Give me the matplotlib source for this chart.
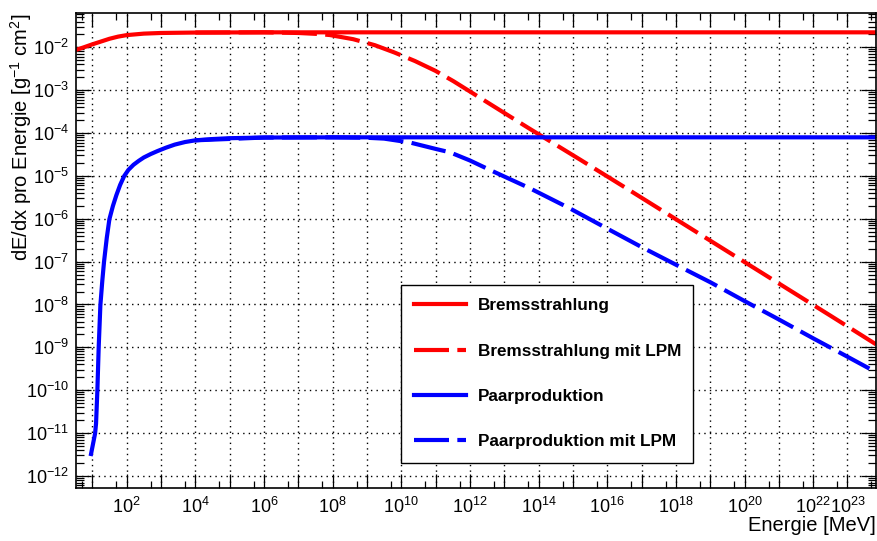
import matplotlib.pyplot as plt
import numpy as np
from matplotlib.ticker import FixedLocator, FixedFormatter, NullFormatter

plt.rcParams['font.family'] = ['Liberation Sans', 'DejaVu Sans']
plt.rcParams['mathtext.fontset'] = 'custom'
plt.rcParams['mathtext.rm'] = 'Liberation Sans'
plt.rcParams['mathtext.it'] = 'Liberation Sans:italic'
plt.rcParams['mathtext.bf'] = 'Liberation Sans:bold'

# log10(E / MeV) und log10(dE/dx / g^-1 cm^2)
brems_logE = [0.525, 0.75, 1.0, 1.25, 1.5, 1.75, 2.0, 2.5, 3.0, 4.0, 6.0, 10.0, 16.0, 23.83]
brems_logdedx = [-2.06, -2.00, -1.93, -1.865, -1.80, -1.75, -1.715, -1.68, -1.665, -1.655,
                 -1.65, -1.65, -1.65, -1.65]

brems_lpm_logE = [4.0, 6.0, 7.0, 7.5, 7.92, 8.6, 9.23, 9.8, 10.4, 11.0, 11.52, 12.58,
                  13.70, 15.21, 16.5, 18.02, 19.38, 21.0, 22.5, 23.83]
brems_lpm_logdedx = [-1.655, -1.65, -1.665, -1.685, -1.713, -1.81, -1.95, -2.12, -2.32, -2.55,
                     -2.79, -3.32, -3.88, -4.62, -5.26, -6.02, -6.70, -7.51, -8.26, -8.93]

paar_logE = [0.962, 1.08, 1.108, 1.147, 1.185, 1.234, 1.29, 1.341, 1.42, 1.497, 1.6, 1.7,
             1.81, 1.93, 2.05, 2.2, 2.35, 2.5, 2.7, 2.9, 3.15, 3.4, 3.7, 4.0, 4.5, 5.0,
             6.0, 8.0, 16.0, 23.83]
paar_logdedx = [-11.49, -11.01, -10.78, -10.0, -9.0, -8.02, -7.45, -7.0, -6.45, -6.01,
                -5.70, -5.45, -5.21, -5.0, -4.86, -4.74, -4.65, -4.57, -4.49, -4.42,
                -4.34, -4.27, -4.21, -4.17, -4.14, -4.12, -4.105, -4.10, -4.10, -4.10]

paar_lpm_logE = [4.0, 6.0, 8.0, 9.0, 9.5, 10.25, 11.0, 11.42, 12.0, 12.58, 13.75, 14.915,
                 16.0, 17.0, 18.02, 19.0, 20.0, 21.0, 22.0, 23.0, 23.83]
paar_lpm_logdedx = [-4.17, -4.105, -4.10, -4.11, -4.13, -4.22, -4.37, -4.45, -4.64, -4.86,
                    -5.29, -5.76, -6.23, -6.66, -7.08, -7.48, -7.92, -8.35, -8.79, -9.22, -9.58]

xlabel_exp = [2, 4, 6, 8, 10, 12, 14, 16, 18, 20, 22, 23]

fig = plt.figure(figsize=(8.78, 5.41), dpi=100)
ax = fig.add_axes([0.0866, 0.0974, 0.9111, 0.878])

lang = (0, (8.4, 2.0))
ax.plot(10 ** np.array(brems_logE), 10 ** np.array(brems_logdedx), color='red', lw=3,
        label='Bremsstrahlung')
ax.plot(10 ** np.array(brems_lpm_logE), 10 ** np.array(brems_lpm_logdedx), color='red', lw=3,
        linestyle=lang, label='Bremsstrahlung mit LPM')
ax.plot(10 ** np.array(paar_logE), 10 ** np.array(paar_logdedx), color='blue', lw=3,
        label='Paarproduktion')
ax.plot(10 ** np.array(paar_lpm_logE), 10 ** np.array(paar_lpm_logdedx), color='blue', lw=3,
        linestyle=lang, label='Paarproduktion mit LPM')

ax.set_xscale('log')
ax.set_yscale('log')
ax.set_xlim(10 ** 0.525, 10 ** 23.83)
ax.set_ylim(10 ** -12.29, 10 ** -1.206)

# x: jede Dekade ein Gitterstrich, Beschriftung nur ausgewaehlt
xdec = np.arange(1, 24)
ax.xaxis.set_major_locator(FixedLocator(10.0 ** xdec))
ax.xaxis.set_major_formatter(FixedFormatter(
    [r'$\mathdefault{10^{%d}}$' % e if e in xlabel_exp else '' for e in xdec]))
ax.xaxis.set_minor_locator(FixedLocator(5 * 10.0 ** np.arange(0, 24)))
ax.xaxis.set_minor_formatter(NullFormatter())

ydec = np.arange(-12, -1)
ax.yaxis.set_major_locator(FixedLocator(10.0 ** ydec))
ax.yaxis.set_major_formatter(FixedFormatter(
    [r'$\mathdefault{10^{%d}}$' % e for e in ydec]))
ax.yaxis.set_minor_locator(FixedLocator(
    [m * 10.0 ** e for e in range(-13, -1) for m in range(2, 10)]))
ax.yaxis.set_minor_formatter(NullFormatter())

ax.tick_params(which='both', direction='in', top=True, right=True, width=0.9, labelsize=13)
ax.tick_params(axis='x', which='major', length=10, pad=6)
ax.tick_params(axis='x', which='minor', length=5)
ax.tick_params(axis='y', which='major', length=11, pad=5)
ax.tick_params(axis='y', which='minor', length=6)
for s in ax.spines.values():
    s.set_linewidth(1.2)

ax.grid(which='major', color='black', linestyle=(0, (1, 3)), linewidth=1.0)

ax.set_xlabel('Energie [MeV]', fontsize=14.5, loc='right')
ax.xaxis.set_label_coords(1.0, -0.058)
ax.set_ylabel(r'dE/dx pro Energie [g$^{-1}$ cm$^{2}$]', fontsize=14.5, loc='top')
ax.yaxis.set_label_coords(-0.053, 1.0)

leg = ax.legend(loc='lower left', bbox_to_anchor=(0.406, 0.053, 0.365, 0.4), mode='expand',
                borderaxespad=0, prop={'weight': 'bold', 'size': 12.3}, frameon=True,
                fancybox=False, edgecolor='black', framealpha=1, handlelength=3.0,
                handletextpad=0.69, labelspacing=1.78, borderpad=0.8)
leg.get_frame().set_linewidth(1.0)

fig.savefig('out.png', dpi=100)
